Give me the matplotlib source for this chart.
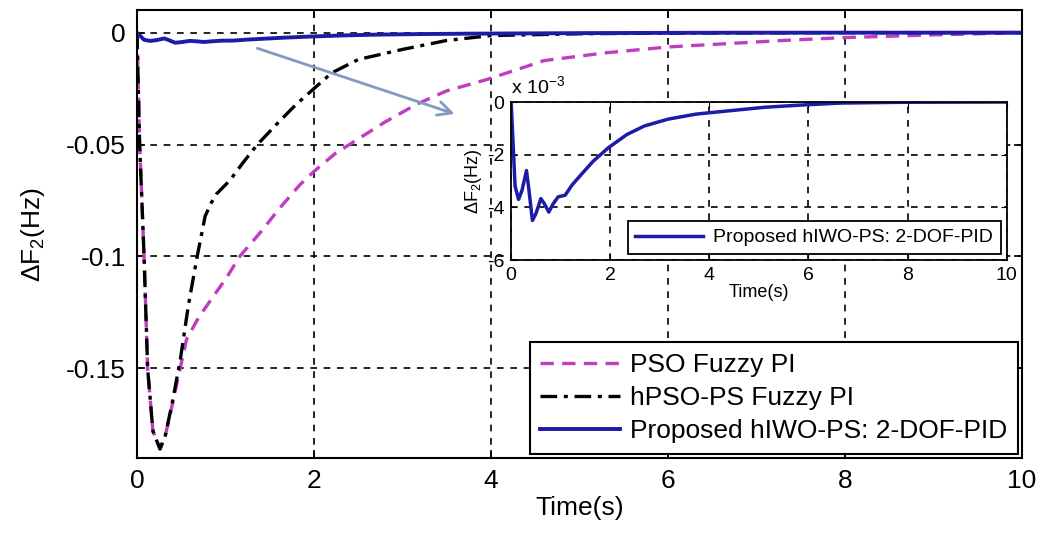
"""Frequency deviation of area 2 (main plot + zoomed inset of the proposed controller)."""
import matplotlib
matplotlib.use("Agg")
import matplotlib.pyplot as plt

plt.rcParams["font.family"] = ["Liberation Sans", "DejaVu Sans"]
plt.rcParams["mathtext.fontset"] = "custom"
plt.rcParams["mathtext.rm"] = "Liberation Sans"
plt.rcParams["mathtext.it"] = "Liberation Sans:italic"

# --- data ---
t_pso = [0, 0.03, 0.08, 0.12, 0.18, 0.26, 0.32, 0.4, 0.51, 0.56, 0.7, 0.86, 1.02, 1.16,
         1.4, 1.6, 1.84, 2.0, 2.24, 2.4, 2.8, 3.16, 3.5, 3.95, 4.6, 5.3, 6.0, 7.3, 8.0, 9.0, 10]
f_pso = [0, -0.05, -0.1, -0.15, -0.178, -0.186, -0.18, -0.166, -0.146, -0.137, -0.127, -0.118,
         -0.109, -0.1, -0.089, -0.079, -0.068, -0.062, -0.054, -0.05, -0.04, -0.032, -0.026,
         -0.021, -0.0125, -0.009, -0.0064, -0.0035, -0.0022, -0.001, 0]

t_hpso = [0, 0.03, 0.08, 0.12, 0.18, 0.26, 0.32, 0.4, 0.49, 0.58, 0.68, 0.77, 0.84, 0.9, 1.05,
          1.2, 1.36, 1.6, 1.8, 2.0, 2.2, 2.5, 3.0, 3.5, 4.0, 5.0, 6.0, 8.0, 10]
f_hpso = [0, -0.05, -0.1, -0.15, -0.178, -0.186, -0.18, -0.165, -0.146, -0.122, -0.1, -0.082,
          -0.076, -0.072, -0.066, -0.058, -0.05, -0.04, -0.032, -0.025, -0.018, -0.012, -0.0075,
          -0.0035, -0.0013, -0.0005, -0.0002, 0, 0]

# proposed controller, in units of 1e-3 Hz
t_prop = [0, 0.01, 0.08, 0.15, 0.22, 0.31, 0.36, 0.43, 0.5, 0.6, 0.67, 0.76, 0.85, 0.95, 1.09,
          1.23, 1.44, 1.65, 1.96, 2.34, 2.69, 3.17, 3.73, 4.42, 5.12, 5.81, 6.65, 7.9, 10]
f_prop = [0, -0.4, -3.2, -3.7, -3.35, -2.6, -3.35, -4.5, -4.24, -3.67, -3.86, -4.18, -3.86,
          -3.6, -3.54, -3.15, -2.7, -2.26, -1.74, -1.23, -0.91, -0.65, -0.46, -0.33, -0.2,
          -0.12, -0.04, -0.01, 0]

labels = ["PSO Fuzzy PI", "hPSO-PS Fuzzy PI", "Proposed hIWO-PS: 2-DOF-PID"]
x_ticks = [0, 2, 4, 6, 8, 10]
y_ticks = [0, -0.05, -0.1, -0.15]
y_ticklabels = ["0", "-0.05", "-0.1", "-0.15"]
in_y_ticks = [0, -2, -4, -6]
in_y_ticklabels = ["0", "-2", "-4", "-6"]

c_pso = "#c03cc0"
c_prop = "#1c1ca8"
grid_kw = dict(color="black", ls=(0, (4, 4)), lw=1.2)

fig = plt.figure(figsize=(10.41, 5.4), dpi=100)
ax = fig.add_axes([0.1316, 0.152, 0.850, 0.829])
ax.plot(t_pso, f_pso, color=c_pso, ls=(0, (4, 2.5)), lw=2.4, label=labels[0])
ax.plot(t_hpso, f_hpso, color="black", ls=(0, (5, 2, 1.2, 2)), lw=2.4, label=labels[1])
ax.plot(t_prop, [v * 1e-3 for v in f_prop], color=c_prop, lw=2.8, label=labels[2])
ax.set_xlim(0, 10)
ax.set_ylim(-0.19, 0.01)
ax.set_xticks(x_ticks)
ax.set_yticks(y_ticks)
ax.set_yticklabels(y_ticklabels)
ax.tick_params(direction="in", top=True, right=True, labelsize=19, length=6, width=1.2, pad=8)
ax.grid(True, **grid_kw)
for s in ax.spines.values():
    s.set_linewidth(1.5)
ax.set_xlabel("Time(s)", fontsize=19, labelpad=2)
ax.set_ylabel(r"ΔF$_2$(Hz)", fontsize=19, labelpad=14)
leg = ax.legend(loc="lower right", fontsize=19, handlelength=3.0, labelspacing=0.35,
                borderaxespad=0.15, fancybox=False, edgecolor="black", framealpha=1,
                handletextpad=0.4)
leg.get_frame().set_linewidth(1.5)

ax.annotate("", xy=(3.62, -0.0367), xytext=(1.33, -0.0066),
            arrowprops=dict(arrowstyle="->", color="#7f9cc0", lw=2, mutation_scale=25))

# inset
ins = fig.add_axes([0.491, 0.5185, 0.476, 0.2926])
ins.set_facecolor("white")
ins.plot(t_prop, f_prop, color=c_prop, lw=2.5, label=labels[2])
ins.set_xlim(0, 10)
ins.set_ylim(-6, 0)
ins.set_xticks(x_ticks)
ins.set_yticks(in_y_ticks)
ins.set_yticklabels(in_y_ticklabels)
ins.tick_params(direction="in", top=True, right=True, labelsize=14, length=4, pad=5)
ins.grid(True, **grid_kw)
for s in ins.spines.values():
    s.set_linewidth(1.3)
ins.set_xlabel("Time(s)", fontsize=13, labelpad=0)
ins.set_ylabel(r"ΔF$_2$(Hz)", fontsize=13, labelpad=2)
ins.text(0.0, 1.03, r"x 10$^{-3}$", transform=ins.transAxes, fontsize=14, ha="left", va="bottom")
ileg = ins.legend(loc="lower right", fontsize=14, handlelength=3.5, fancybox=False,
                  edgecolor="black", framealpha=1, borderaxespad=0.3, handletextpad=0.5)
ileg.get_frame().set_linewidth(1.3)

fig.savefig("out.png", dpi=100)
